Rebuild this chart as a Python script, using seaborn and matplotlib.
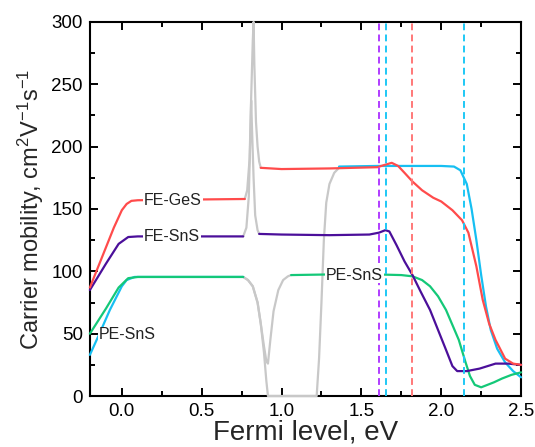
import matplotlib
matplotlib.use("Agg")
import matplotlib.pyplot as plt
import seaborn as sns
import numpy as np
import pandas as pd
from matplotlib.ticker import MultipleLocator

# ---------------- data ----------------
# FE-GeS (red)
ges_x1 = [-0.2, -0.1, -0.05, 0.0, 0.03, 0.06, 0.1, 0.4, 0.77]
ges_y1 = [87, 119, 135, 149, 154, 156.5, 157, 157.5, 158]
ges_xg = [0.77, 0.785, 0.80, 0.81, 0.82, 0.825, 0.83, 0.84, 0.85, 0.86, 0.87]
ges_yg = [158, 165, 190, 240, 285, 300, 265, 220, 200, 188, 183]
ges_x2 = [0.87, 1.0, 1.3, 1.6, 1.65, 1.69, 1.73, 1.77, 1.82, 1.88, 1.95, 2.0, 2.07,
          2.13, 2.17, 2.22, 2.26, 2.30, 2.34, 2.40, 2.45, 2.5]
ges_y2 = [183, 182, 182.5, 183.5, 185.5, 187, 184.5, 179, 172, 165, 159, 156, 149,
          141, 131, 104, 77, 58, 45, 30, 26, 25]

# FE-SnS (purple)
fsns_x1 = [-0.2, -0.1, -0.02, 0.04, 0.1, 0.4, 0.76]
fsns_y1 = [85, 106, 122, 127.5, 128, 128, 128]
fsns_xg = [0.76, 0.78, 0.795, 0.805, 0.81, 0.815, 0.825, 0.835, 0.85, 0.86]
fsns_yg = [128, 135, 160, 210, 237, 215, 175, 145, 133, 130]
fsns_x2 = [0.86, 1.0, 1.3, 1.55, 1.61, 1.65, 1.675, 1.72, 1.77, 1.82, 1.87, 1.93,
           1.98, 2.03, 2.07, 2.1, 2.16, 2.24, 2.34, 2.42, 2.5]
fsns_y2 = [130, 129.5, 129, 129.5, 131, 133, 132, 121, 108, 97, 84, 69,
           53, 37, 24, 20, 20, 22, 26, 26, 25]

# PE-SnS (green)
psns_x1 = [-0.2, -0.1, -0.02, 0.04, 0.1, 0.4, 0.76]
psns_y1 = [50, 70, 87, 94.5, 95.5, 95.5, 95.5]
psns_xg = [0.76, 0.79, 0.82, 0.85, 0.87, 0.89, 0.905, 0.915, 0.93, 0.95, 0.98, 1.01, 1.04, 1.06]
psns_yg = [95.5, 93, 88, 75, 58, 40, 28, 26, 45, 68, 85, 93, 96, 97]
psns_x2 = [1.06, 1.3, 1.6, 1.75, 1.82, 1.88, 1.93, 1.98, 2.03, 2.07, 2.11, 2.15,
           2.18, 2.21, 2.25, 2.29, 2.33, 2.38, 2.44, 2.5]
psns_y2 = [97, 97.5, 97.5, 97, 96, 93, 88, 80, 69, 57, 45, 28,
           16, 9, 7, 9, 11, 14, 17, 19]

# PE-SnS (cyan)
pcyan_x1 = [-0.2, -0.14, -0.075, 0.0, 0.03, 0.08, 0.4, 0.76]
pcyan_y1 = [33, 50, 69, 88, 93, 95.5, 95.5, 95.5]
pcyan_xg = [0.76, 0.79, 0.82, 0.85, 0.87, 0.89, 0.905, 0.915, 1.0, 1.1, 1.22, 1.235,
            1.25, 1.265, 1.28, 1.30, 1.33, 1.36]
pcyan_yg = [95.5, 93, 88, 75, 58, 35, 12, 0, 0, 0, 0, 30,
            75, 125, 155, 170, 179, 183]
pcyan_x2 = [1.36, 1.6, 1.8, 2.0, 2.08, 2.12, 2.16, 2.19, 2.22, 2.25, 2.28, 2.31,
            2.35, 2.40, 2.45, 2.5]
pcyan_y2 = [184, 184.5, 184.5, 184.5, 184, 181, 170, 150, 125, 97, 72, 53,
            38, 27, 20, 15]

# vertical dashed markers (eV)
vline_x = [1.6125, 1.655, 1.82, 2.14]
vline_colors = ["#b03cff", "#1ec8f5", "#ff7878", "#1ec8f5"]

# labels
label_text = ["FE-GeS", "FE-SnS", "PE-SnS", "PE-SnS"]
label_x = [0.14, 0.14, -0.145, 1.28]
label_y = [157, 128, 49, 97]

RED = "#ff4b4b"
PURPLE = "#4b0f9a"
GREEN = "#14c878"
CYAN = "#16bff2"
GRAY = "#c8c8c8"

# ---------------- plot ----------------
sns.set_theme(style="ticks")
plt.rcParams["font.family"] = ["Liberation Sans", "DejaVu Sans"]
plt.rcParams["mathtext.fontset"] = "custom"
plt.rcParams["mathtext.rm"] = "Liberation Sans"
plt.rcParams["mathtext.it"] = "Liberation Sans:italic"

fig = plt.figure(figsize=(5.35, 4.47), dpi=100)
ax = fig.add_axes([0.168, 0.114, 0.806, 0.837])

lw = 1.6

def seg(x, y, color, z=2.7):
    sns.lineplot(x=x, y=y, color=color, sort=False, estimator=None, lw=lw, ax=ax,
                 zorder=z, clip_on=False)

# gray band-gap parts
seg(ges_xg, ges_yg, GRAY, 2.6)
seg(fsns_xg, fsns_yg, GRAY, 2.6)
seg(psns_xg, psns_yg, GRAY, 2.6)
seg(pcyan_xg, pcyan_yg, GRAY, 2.6)

# coloured parts
seg(pcyan_x1, pcyan_y1, CYAN)
seg(psns_x1, psns_y1, GREEN)
seg(pcyan_x2, pcyan_y2, CYAN)
seg(psns_x2, psns_y2, GREEN)
seg(fsns_x1, fsns_y1, PURPLE)
seg(fsns_x2, fsns_y2, PURPLE)
seg(ges_x1, ges_y1, RED)
seg(ges_x2, ges_y2, RED)

for xv, c in zip(vline_x, vline_colors):
    ax.axvline(xv, color=c, lw=1.4, ls=(0, (3.5, 2.2)), zorder=3)

for t, xx, yy in zip(label_text, label_x, label_y):
    ax.text(xx, yy, t, fontsize=11.5, ha="left", va="center", color="#222222",
            bbox=dict(facecolor="white", edgecolor="none", pad=0.6), zorder=4)

ax.set_xlim(-0.2, 2.5)
ax.set_ylim(0, 300)
ax.xaxis.set_major_locator(MultipleLocator(0.5))
ax.xaxis.set_minor_locator(MultipleLocator(0.25))
ax.yaxis.set_major_locator(MultipleLocator(50))
ax.yaxis.set_minor_locator(MultipleLocator(25))
ax.set_xticks([0.0, 0.5, 1.0, 1.5, 2.0, 2.5])
ax.set_xticklabels(["0.0", "0.5", "1.0", "1.5", "2.0", "2.5"])

ax.tick_params(which="both", direction="in", top=True, right=True, width=1.4, colors="black")
ax.tick_params(which="major", length=6, labelsize=13.5, pad=5)
ax.tick_params(which="minor", length=3.5)
for s in ax.spines.values():
    s.set_linewidth(1.5)
    s.set_color("black")

ax.set_xlabel("Fermi level, eV", fontsize=20, labelpad=0)
ax.set_ylabel(r"Carrier mobility, cm$^{2}$V$^{-1}$s$^{-1}$", fontsize=17, labelpad=4)

fig.savefig("out.png", dpi=100)
